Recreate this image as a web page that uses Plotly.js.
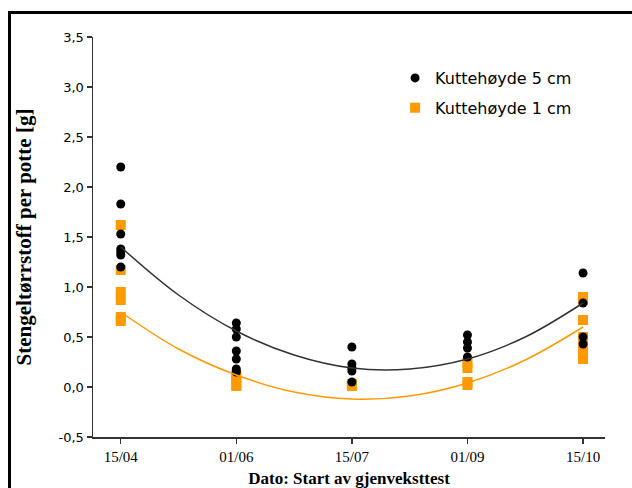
<!DOCTYPE html>
<html><head><meta charset="utf-8">
<script src="https://cdn.plot.ly/plotly-3.0.1.min.js"></script>
<style>
html,body{margin:0;padding:0;background:#fff;overflow:hidden;}
#frame{position:absolute;left:8px;top:11px;width:700px;height:600px;border:3px solid #000;box-sizing:border-box;pointer-events:none;}
</style>
</head><body>
<div id="chart" style="width:632px;height:488px;"></div>
<div id="frame"></div>
<script>
// Dates (start of regrowth test), shown as equally spaced categories
const dateLabels = ['15/04', '01/06', '15/07', '01/09', '15/10'];
const datePos = [0, 1, 2, 3, 4];

// Kuttehøyde 5 cm: date index and dry matter per pot [g]
const cut5Date = [0,0,0,0,0,0,0, 1,1,1,1,1,1,1, 2,2,2,2,2, 3,3,3,3, 4,4,4,4];
const cut5Val  = [2.20,1.83,1.53,1.38,1.35,1.32,1.20,
                  0.64,0.58,0.50,0.36,0.28,0.18,0.15,
                  0.40,0.23,0.19,0.16,0.05,
                  0.52,0.45,0.39,0.30,
                  1.14,0.84,0.50,0.43];

// Kuttehøyde 1 cm
const cut1Date = [0,0,0,0,0,0, 1,1,1,1, 2,2, 3,3,3,3, 4,4,4,4,4,4,4];
const cut1Val  = [1.62,1.17,0.95,0.87,0.70,0.66,
                  0.12,0.09,0.02,0.01,
                  0.03,0.01,
                  0.24,0.19,0.05,0.02,
                  0.90,0.87,0.67,0.50,0.42,0.33,0.28];

// Trend curves at half-step positions
const trendPos = [0, 0.5, 1, 1.5, 2, 2.5, 3, 3.5, 4];
const trend5   = [1.40, 0.92, 0.56, 0.32, 0.19, 0.18, 0.28, 0.50, 0.84];
const trend1   = [0.75, 0.38, 0.12, -0.05, -0.12, -0.09, 0.04, 0.27, 0.60];

const yTicks = [-0.5, 0, 0.5, 1, 1.5, 2, 2.5, 3, 3.5];
const yTickLabels = ['-0,5', '0,0', '0,5', '1,0', '1,5', '2,0', '2,5', '3,0', '3,5'];

const black = '#000000';
const orange = '#ff9900';

const traces = [
  {x: cut1Date, y: cut1Val, mode: 'markers', type: 'scatter', name: 'Kuttehøyde 1 cm',
   legendgroup: 'b', legendrank: 2,
   marker: {symbol: 'square', size: 10, color: orange}},
  {x: cut5Date, y: cut5Val, mode: 'markers', type: 'scatter', name: 'Kuttehøyde 5 cm',
   legendgroup: 'a', legendrank: 1,
   marker: {symbol: 'circle', size: 9, color: black}},
  {x: trendPos, y: trend5, mode: 'lines', type: 'scatter', showlegend: false,
   line: {color: '#333333', width: 1.5, shape: 'spline'}, hoverinfo: 'skip'},
  {x: trendPos, y: trend1, mode: 'lines', type: 'scatter', showlegend: false,
   line: {color: orange, width: 1.5, shape: 'spline'}, hoverinfo: 'skip'}
];

const layout = {
  width: 632, height: 488,
  margin: {l: 93, r: 27, t: 37, b: 51},
  paper_bgcolor: '#fff', plot_bgcolor: '#fff',
  showlegend: true,
  legend: {x: 0.59, y: 0.94, xanchor: 'left', yanchor: 'top',
           font: {family: 'DejaVu Sans', size: 16, color: '#000'},
           bgcolor: 'rgba(0,0,0,0)', tracegroupgap: 6, traceorder: 'grouped'},
  xaxis: {
    range: [-0.24, 4.19],
    tickmode: 'array', tickvals: datePos, ticktext: dateLabels,
    showgrid: false, zeroline: false,
    showline: true, linecolor: '#333', linewidth: 1.5,
    ticks: 'outside', ticklen: 5, tickcolor: '#333', tickwidth: 1.5,
    tickfont: {family: 'Liberation Serif', size: 15, color: '#000'},
    title: {text: '<b>Dato: Start av gjenveksttest</b>', standoff: 12,
            font: {family: 'Liberation Serif', size: 17, color: '#000'}}
  },
  yaxis: {
    range: [-0.5, 3.5],
    tickmode: 'array', tickvals: yTicks, ticktext: yTickLabels,
    showgrid: false, zeroline: false,
    showline: true, linecolor: '#333', linewidth: 1.5,
    ticks: 'outside', ticklen: 5, tickcolor: '#333', tickwidth: 1.5,
    tickfont: {family: 'DejaVu Sans', size: 13, color: '#000'},
    title: {text: '<b>Stengeltørrstoff per potte [g]</b>', standoff: 21,
            font: {family: 'Liberation Serif', size: 21, color: '#000'}}
  }
};

Plotly.newPlot('chart', traces, layout, {displayModeBar: false, staticPlot: true});
</script>
</body></html>
